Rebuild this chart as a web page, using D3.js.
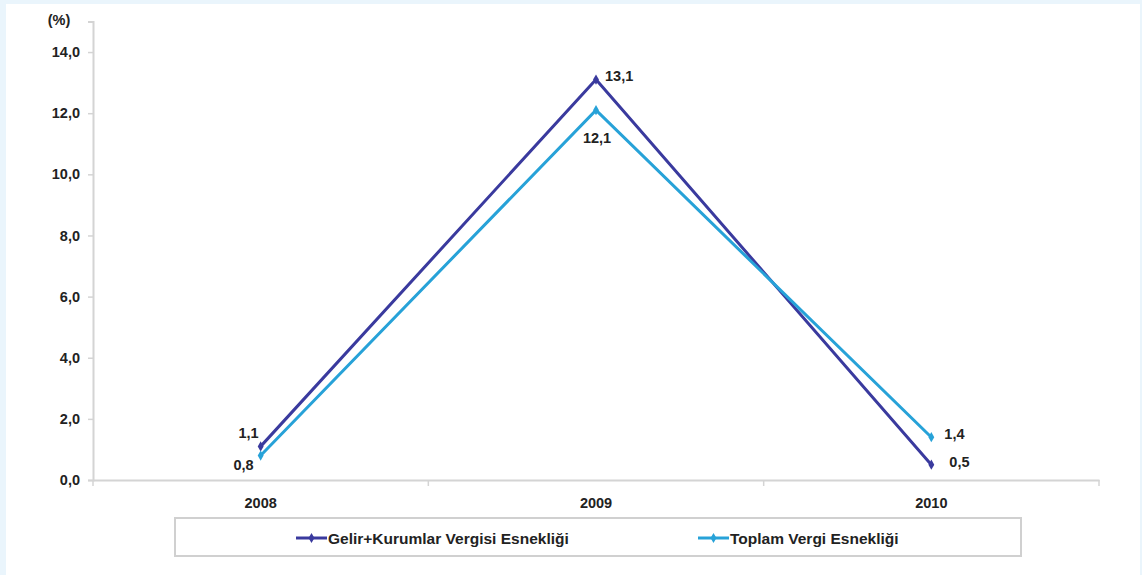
<!DOCTYPE html>
<html><head><meta charset="utf-8">
<script src="https://cdn.jsdelivr.net/npm/d3@7/dist/d3.min.js"></script>
<style>
html,body{margin:0;padding:0;background:#eaf5fc;}
svg{display:block;font-family:"Liberation Sans",Arial,sans-serif;}
</style></head><body>
<svg id="c" width="1142" height="575"></svg>
<script>
const years = ["2008","2009","2010"];
const gelirValues = [1.1, 13.1, 0.5];
const toplamValues = [0.8, 12.1, 1.4];
const yTicks = [0,2,4,6,8,10,12,14];
const seriesNames = ["Gelir+Kurumlar Vergisi Esnekliği","Toplam Vergi Esnekliği"];
const gelirLabels = ["1,1","13,1","0,5"];
const toplamLabels = ["0,8","12,1","1,4"];

const svg = d3.select("#c");
svg.append("rect").attr("x",6).attr("y",4).attr("width",1134).attr("height",575).attr("fill","#fff");

const x = d3.scaleBand().domain(years).range([93,1099]);
const y = d3.scaleLinear().domain([0,15]).range([480,21.5]);
const fmt = d => d3.format(".1f")(d).replace(".",",");
const axisColor = "#d4d4d4";
const FS = 14.5;

// y axis
const ya = svg.append("g").attr("transform","translate(93,0)")
  .call(d3.axisLeft(y).tickValues(yTicks).tickFormat(fmt).tickSize(5).tickPadding(8));
ya.select(".domain").attr("stroke",axisColor).attr("stroke-width",2);
ya.selectAll(".tick line").attr("stroke",axisColor).attr("stroke-width",1.5);
ya.selectAll(".tick text").attr("font-size",FS).attr("font-weight","bold").attr("fill","#222").attr("font-family","Liberation Sans, Arial, sans-serif");

// x axis
const xa = svg.append("g").attr("transform","translate(0,480)")
  .call(d3.axisBottom(x).tickSizeInner(0).tickSizeOuter(0).tickPadding(18));
xa.select(".domain").attr("stroke",axisColor).attr("stroke-width",2);
xa.selectAll(".tick text").attr("font-size",FS).attr("font-weight","bold").attr("fill","#222").attr("font-family","Liberation Sans, Arial, sans-serif");
// boundary ticks
const bounds = years.map(d=>x(d)).concat([x.range()[1]]);
svg.append("g").selectAll("line").data(bounds).join("line")
  .attr("x1",d=>d).attr("x2",d=>d).attr("y1",480).attr("y2",486)
  .attr("stroke",axisColor).attr("stroke-width",1.5);

svg.append("text").attr("x",59).attr("y",25).attr("text-anchor","middle")
  .attr("font-size",FS).attr("font-weight","bold").attr("fill","#222").text("(%)");

const cx = d => x(d) + x.bandwidth()/2;
const colors = ["#3a3a9e","#27a2d8"];
const series = [gelirValues, toplamValues];
const line = d3.line().x((d,i)=>cx(years[i])).y(d=>y(d));
const diamond = d3.symbol().type(d3.symbolDiamond).size(30);

series.forEach((vals,si)=>{
  svg.append("path").datum(vals).attr("d",line).attr("fill","none")
    .attr("stroke",colors[si]).attr("stroke-width",3);
  svg.append("g").selectAll("path").data(vals).join("path")
    .attr("d",diamond).attr("transform",(d,i)=>`translate(${cx(years[i])},${y(d)})`)
    .attr("fill",colors[si]);
});

// data labels
const lab = (t,px,py,anchor)=>svg.append("text").attr("x",px).attr("y",py).attr("text-anchor",anchor)
  .attr("font-size",FS).attr("font-weight","bold").attr("fill","#222").text(t);
// Gelir
lab(gelirLabels[0], cx(years[0])-2, y(gelirValues[0])-8, "end");
lab(gelirLabels[1], cx(years[1])+9, y(gelirValues[1])+1.5, "start");
lab(gelirLabels[2], cx(years[2])+18, y(gelirValues[2])+2.5, "start");
// Toplam
lab(toplamLabels[0], cx(years[0])-7, y(toplamValues[0])+14, "end");
lab(toplamLabels[1], cx(years[1])+1, y(toplamValues[1])+33, "middle");
lab(toplamLabels[2], cx(years[2])+13, y(toplamValues[2])+2, "start");

// legend
svg.append("rect").attr("x",175).attr("y",518).attr("width",846).attr("height",38)
  .attr("fill","#fff").attr("stroke","#d0d0d0").attr("stroke-width",2);
const legX = [296, 698];
seriesNames.forEach((n,i)=>{
  const g = svg.append("g");
  g.append("line").attr("x1",legX[i]).attr("x2",legX[i]+31).attr("y1",538).attr("y2",538)
    .attr("stroke",colors[i]).attr("stroke-width",3);
  g.append("path").attr("d",diamond).attr("transform",`translate(${legX[i]+15.5},538)`).attr("fill",colors[i]);
  g.append("text").attr("x",legX[i]+32).attr("y",543.5).attr("font-size",15.5).attr("font-weight","bold")
    .attr("fill","#222").text(n);
});
</script></body></html>
